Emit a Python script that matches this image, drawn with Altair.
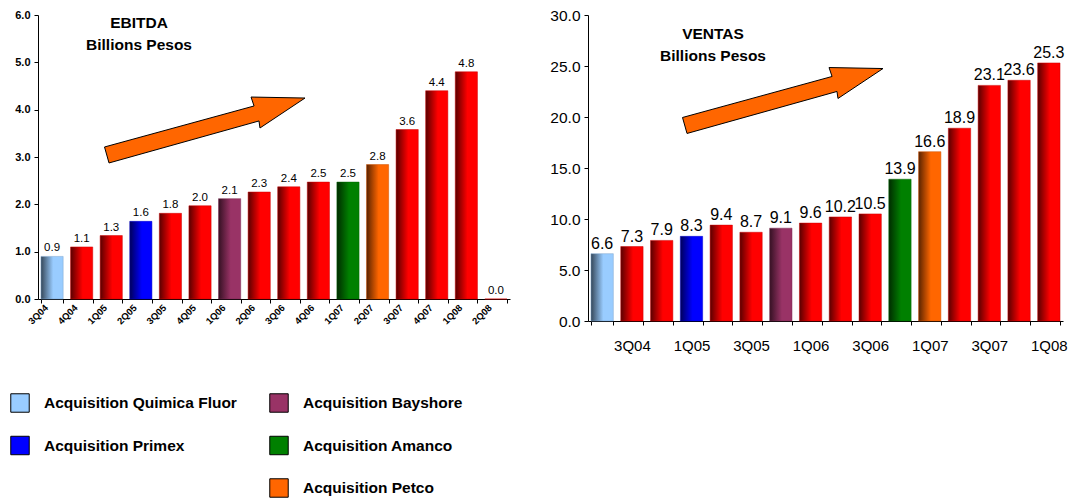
import json
import altair as alt
import pandas as pd

# ---------------- data ----------------
quarters = ["3Q04", "4Q04", "1Q05", "2Q05", "3Q05", "4Q05", "1Q06", "2Q06",
            "3Q06", "4Q06", "1Q07", "2Q07", "3Q07", "4Q07", "1Q08", "2Q08"]
ebitda = [0.9, 1.1, 1.34, 1.64, 1.81, 1.97, 2.12, 2.26, 2.37, 2.47, 2.47, 2.84,
          3.58, 4.4, 4.8, 0.0]
ventas = [6.6, 7.3, 7.9, 8.3, 9.4, 8.7, 9.1, 9.6, 10.2, 10.5, 13.9, 16.6,
          18.9, 23.1, 23.6, 25.3]
acquisition = ["Acquisition Quimica Fluor", "", "", "Acquisition Primex", "", "",
               "Acquisition Bayshore", "", "", "", "Acquisition Amanco",
               "Acquisition Petco", "", "", "", ""]
legend_names = ["Acquisition Quimica Fluor", "Acquisition Primex",
                "Acquisition Bayshore", "Acquisition Amanco", "Acquisition Petco"]
legend_colors = ["#99CCFF", "#0000FF", "#993366", "#008000", "#FF6600"]
organic_color = "#FF0000"
ventas_tick_labels = ["3Q04", "1Q05", "3Q05", "1Q06", "3Q06", "1Q07", "3Q07", "1Q08"]
ebitda_ticks = [0, 1, 2, 3, 4, 5, 6]
ventas_ticks = [0, 5, 10, 15, 20, 25, 30]

color_of = dict(zip(legend_names, legend_colors))
df = pd.DataFrame({"quarter": quarters, "ebitda": ebitda, "ventas": ventas,
                   "acq": acquisition})
df["color"] = [color_of.get(a, organic_color) for a in acquisition]

FONT = "Liberation Sans, Arial, sans-serif"
ARROW = ("M -0.995 0.169 L 0.493 -0.239 L 0.463 -0.328 L 1 -0.318 "
         "L 0.552 -0.02 L 0.542 -0.09 L -0.95 0.328 Z")


def shade(c, f):
    r, g, b = int(c[1:3], 16), int(c[3:5], 16), int(c[5:7], 16)
    return "#%02x%02x%02x" % (int(r * f), int(g * f), int(b * f))


def grad(c):
    return alt.Gradient(
        gradient="linear", x1=0, x2=1, y1=0, y2=0,
        stops=[alt.GradientStop(offset=0, color=shade(c, 0.35)),
               alt.GradientStop(offset=0.55, color=c),
               alt.GradientStop(offset=1, color=c)])


def panel(field, w, h, ymax, xaxis, yaxis, label_size, label_dy,
          title_xy, title_size, arrow_xy):
    xenc = alt.X("quarter:O", sort=quarters,
                 scale=alt.Scale(domain=quarters, paddingInner=0.25, paddingOuter=0.1),
                 axis=xaxis, title=None)
    yenc = alt.Y(f"{field}:Q", scale=alt.Scale(domain=[0, ymax], nice=False),
                 axis=yaxis, title=None)
    layers = []
    for c in list(dict.fromkeys(df["color"])):
        layers.append(
            alt.Chart(df).transform_filter(alt.datum.color == c)
            .mark_bar(fill=grad(c), stroke=shade(c, 0.8), strokeWidth=0.5)
            .encode(x=xenc, y=yenc))
    layers.append(
        alt.Chart(df).mark_text(font=FONT, fontSize=label_size, color="#000",
                                baseline="alphabetic", dy=label_dy)
        .encode(x=xenc, y=yenc, text=alt.Text(f"{field}:Q", format=".1f")))
    tdf = pd.DataFrame({"t": ["EBITDA\nBillions Pesos" if field == "ebitda"
                              else "VENTAS\nBillions Pesos"]})
    layers.append(
        alt.Chart(tdf).mark_text(font=FONT, fontSize=title_size, fontWeight="bold",
                                 color="#000", align="center", baseline="alphabetic",
                                 lineBreak="\n", lineHeight=22)
        .encode(x=alt.value(title_xy[0]), y=alt.value(title_xy[1]), text="t:N"))
    adf = pd.DataFrame({"a": ["trend"]})
    layers.append(
        alt.Chart(adf).mark_point(shape=ARROW, size=40401, filled=True,
                                  fill="#FF6600", stroke="#000", strokeWidth=1,
                                  opacity=1, fillOpacity=1)
        .encode(x=alt.value(arrow_xy[0]), y=alt.value(arrow_xy[1])))
    return alt.layer(*layers).properties(width=w, height=h)


left_x_axis = alt.Axis(labelAngle=-45, labelFontSize=9.5, labelFontWeight="bold",
                       labelFont=FONT, labelColor="#000", tickBand="extent",
                       tickSize=4, tickColor="#000", domainColor="#000",
                       labelPadding=3, labelAlign="right", labelBaseline="middle",
                       labelOffset=-6)
left_y_axis = alt.Axis(values=ebitda_ticks, format=".1f", labelFontSize=11,
                       labelFontWeight="bold", labelFont=FONT, labelColor="#000",
                       tickSize=4, tickColor="#000", domainColor="#000",
                       labelPadding=4, grid=False)
q_json = json.dumps(quarters)
lab_json = json.dumps(ventas_tick_labels)
right_x_axis = alt.Axis(
    labelExpr=(f"indexof({q_json}, datum.value) % 2 == 1 ? "
               f"{lab_json}[floor(indexof({q_json}, datum.value) / 2)] : ''"),
    labelAngle=0, labelFontSize=15, labelFont=FONT, labelColor="#000",
    tickBand="extent", tickSize=4, tickColor="#000", domainColor="#000",
    labelPadding=13, labelBaseline="top")
right_y_axis = alt.Axis(values=ventas_ticks, format=".1f", labelFontSize=15.5,
                        labelFont=FONT, labelColor="#000", tickSize=4,
                        tickColor="#000", domainColor="#000", labelPadding=4,
                        grid=False)

left = panel("ebitda", 472, 284, 6, left_x_axis, left_y_axis,
             11.5, -5, (101, 13.3), 15.5, (166.5, 115))
right = panel("ventas", 475, 306, 30, right_x_axis, right_y_axis,
              16, -5, (125, 24.3), 15.5, (194.5, 85.5))

# ---------------- legend ----------------
ldf = pd.DataFrame({"name": legend_names, "color": legend_colors})
ldf["col"] = [0 if i < 2 else 1 for i in range(len(ldf))]
ldf["row"] = [i if i < 2 else i - 2 for i in range(len(ldf))]
lx = alt.X("col:Q", scale=alt.Scale(domain=[0, 1], range=[-18, 241]), axis=None)
ly = alt.Y("row:Q", scale=alt.Scale(domain=[0, 2], range=[20, 105]), axis=None)
legend_sw = alt.Chart(ldf).mark_square(size=340, stroke="#000", strokeWidth=1,
                                       opacity=1).encode(
    x=lx, y=ly, fill=alt.Fill("color:N", scale=None))
legend_tx = alt.Chart(ldf).mark_text(font=FONT, fontSize=15.5, fontWeight="bold",
                                     color="#000", align="left", dx=24,
                                     baseline="middle").encode(
    x=lx, y=ly, text="name:N")
legend = alt.layer(legend_sw, legend_tx).properties(width=600, height=112)

top = alt.hconcat(left, right, spacing=39)
chart = alt.vconcat(top, legend, spacing=30).properties(
    padding={"left": 0, "top": 0, "right": 0, "bottom": 0}, background="white"
).configure_view(stroke=None)

chart.save("out.html", embed_options={"renderer": "svg", "actions": False})
